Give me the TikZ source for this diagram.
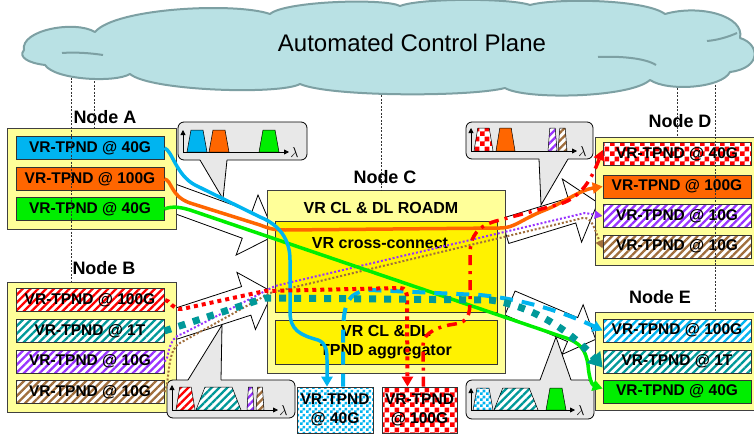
\documentclass[tikz,border=0pt]{standalone}
\usepackage{fontspec}
\setmainfont{Liberation Sans}
\usetikzlibrary{arrows.meta, patterns, patterns.meta}

\definecolor{skyc}{RGB}{0,180,240}
\definecolor{orng}{RGB}{255,102,0}
\definecolor{grn}{RGB}{0,238,0}
\definecolor{tealc}{RGB}{0,153,153}
\definecolor{violc}{RGB}{153,51,255}
\definecolor{brwn}{RGB}{160,110,60}
\definecolor{paley}{RGB}{255,255,153}
\definecolor{cloudf}{RGB}{185,225,228}
\definecolor{cloudd}{RGB}{125,160,163}
\definecolor{insetg}{RGB}{232,232,232}

\pgfdeclarepatternformonly{bigcheck}{\pgfqpoint{0pt}{0pt}}{\pgfqpoint{10pt}{10pt}}{\pgfqpoint{10pt}{10pt}}%
{\pgfpathrectangle{\pgfqpoint{0pt}{0pt}}{\pgfqpoint{5pt}{5pt}}%
 \pgfpathrectangle{\pgfqpoint{5pt}{5pt}}{\pgfqpoint{5pt}{5pt}}%
 \pgfusepath{fill}}
\pgfdeclarepatternformonly{smallcheck}{\pgfqpoint{0pt}{0pt}}{\pgfqpoint{6pt}{6pt}}{\pgfqpoint{6pt}{6pt}}%
{\pgfpathrectangle{\pgfqpoint{0pt}{0pt}}{\pgfqpoint{3pt}{3pt}}%
 \pgfpathrectangle{\pgfqpoint{3pt}{3pt}}{\pgfqpoint{3pt}{3pt}}%
 \pgfusepath{fill}}

\tikzset{
  nodebox/.style={draw=black!75, fill=paley, line width=0.7pt, inner sep=0pt},
  nodelabel/.style={font=\fontsize{18}{20}\bfseries\selectfont, inner sep=0pt},
  tpnd/.style={draw=black!80, line width=0.7pt, minimum width=148, minimum height=23,
    inner sep=0pt, font=\fontsize{15.5}{17}\bfseries\selectfont},
  hatch/.style={preaction={fill=white}, pattern={Lines[angle=45,distance=5.5pt,line width=2.3pt]}, pattern color=#1},
  bigchk/.style={preaction={fill=white}, pattern=bigcheck, pattern color=#1},
  smallchk/.style={preaction={fill=white}, pattern=smallcheck, pattern color=#1},
  blockarr/.style={draw=black, fill=white, line width=0.8pt, line join=miter},
  calloutline/.style={draw=black, line width=0.8pt},
  bandline/.style={draw=black, line width=0.5pt},
  axarr/.style={line width=0.8pt, -{Triangle[length=5pt,width=5pt]}},
  ctrl/.style={draw=black!80, line width=0.5pt, dash pattern=on 2pt off 1.5pt},
  cloudline/.style={draw=cloudd, line width=2pt, line join=round},
  sig/.style={line width=3.5pt, -{Triangle[length=10pt,width=11pt]}},
}

% hollow block arrow: x, y, angle, shaft half width, body length, head length, head half width
\newcommand{\blockarrow}[7]{%
  \begin{scope}[shift={(#1,#2)}, rotate=#3]
    \draw[blockarr] (0,-#4) -- (#5,-#4) -- (#5,-#7) -- ({#5+#6},0) -- (#5,#7) -- (#5,#4) -- (0,#4) -- cycle;
  \end{scope}}
% spectrum callout: x1, x2, y at tail, other y, tail left, tail right, tip x, tip y
\newcommand{\specbox}[8]{%
  \fill[insetg, rounded corners=6] (#1,#3) rectangle (#2,#4);
  \fill[insetg] (#5,#3) -- (#7,#8) -- (#6,#3) -- cycle;
  \draw[calloutline, rounded corners=6] (#6,#3) -- (#2,#3) -- (#2,#4) -- (#1,#4) -- (#1,#3) -- (#5,#3);
  \draw[calloutline] (#5,#3) -- (#7,#8) -- (#6,#3);}
% spectral band: left, right, top, bottom, style
\newcommand{\band}[5]{%
  \draw[bandline,#5] (#1,#4) -- ({#1+0.2*(#2-#1)},#3) -- ({#2-0.2*(#2-#1)},#3) -- (#2,#4) -- cycle;}
% axes: x, top, bottom, right end
\newcommand{\specaxes}[4]{%
  \draw[axarr] (#1,#3) -- (#1,#2);
  \draw[axarr] (#1,#3) -- (#4,#3) node[right, inner sep=1pt, font=\fontsize{14}{14}\selectfont] {$\lambda$};}

\begin{document}
\begin{tikzpicture}[x=1pt, y=-1pt]
\useasboundingbox (0,0) rectangle (754,436);

% block arrows between nodes
\blockarrow{170}{197}{-20}{14}{82}{30}{32}
\blockarrow{172}{325}{18}{15}{78}{28}{30}
\blockarrow{505}{231}{17}{13}{70}{27}{33}
\blockarrow{510}{303}{-23}{13}{68}{25}{27}

% Node A
\node[nodebox, minimum width=169, minimum height=101] (nodeA) at (91.5,178.5) {};
\node[nodelabel] (labA) at (105,117) {Node A};
\node[tpnd, fill=skyc] (a1) at (90,148) {VR-TPND @ 40G};
\node[tpnd, fill=orng] (a2) at (90,179) {VR-TPND @ 100G};
\node[tpnd, fill=grn] (a3) at (90,209) {VR-TPND @ 40G};

% Node B
\node[nodebox, minimum width=169, minimum height=130] (nodeB) at (91.5,347) {};
\node[nodelabel] (labB) at (104,268) {Node B};
\node[tpnd, hatch=red] (b1) at (90,300) {VR-TPND @ 100G};
\node[tpnd, hatch=tealc] (b2) at (90,331) {VR-TPND @ 1T};
\node[tpnd, hatch=violc] (b3) at (90,361.5) {VR-TPND @ 10G};
\node[tpnd, hatch=brwn] (b4) at (90,392) {VR-TPND @ 10G};

% Node C
\node[nodebox, minimum width=238, minimum height=183] (nodeC) at (386,281.5) {};
\node[nodelabel] (labC) at (385,177) {Node C};
\node[font=\fontsize{16}{18}\bfseries\selectfont] (roadm) at (381,208) {VR CL \& DL ROADM};
\node[draw=black!80, fill=yellow, line width=0.7pt, minimum width=222, minimum height=91, inner sep=0pt] (xconn) at (386,266.5) {};
\node[font=\fontsize{16}{18}\bfseries\selectfont] (xlab) at (380,243) {VR cross-connect};
\node[draw=black!80, fill=yellow, line width=0.7pt, minimum width=222, minimum height=44, inner sep=0pt,
  align=center, font=\fontsize{16}{19}\bfseries\selectfont] (aggr) at (386,342) {VR CL \& DL\\TPND aggregator};

% Node D
\node[nodebox, minimum width=162, minimum height=128] (nodeD) at (676,201) {};
\node[nodelabel] (labD) at (680,121) {Node D};
\node[tpnd, bigchk=red] (d1) at (677,154) {VR-TPND @ 40G};
\node[tpnd, fill=orng] (d2) at (677,186.5) {VR-TPND @ 100G};
\node[tpnd, hatch=violc] (d3) at (677,216) {VR-TPND @ 10G};
\node[tpnd, hatch=brwn] (d4) at (677,246.5) {VR-TPND @ 10G};

% Node E
\node[nodebox, minimum width=162, minimum height=98] (nodeE) at (676,361) {};
\node[nodelabel] (labE) at (660,297) {Node E};
\node[tpnd, hatch=skyc] (e1) at (677,330.5) {VR-TPND @ 100G};
\node[tpnd, hatch=tealc] (e2) at (677,361.5) {VR-TPND @ 1T};
\node[tpnd, fill=grn] (e3) at (677,391.5) {VR-TPND @ 40G};

% local drop TPNDs
\node[tpnd, smallchk=skyc, minimum width=76, minimum height=46, align=center, font=\fontsize{15.5}{19}\bfseries\selectfont] (x40) at (335,410) {VR-TPND\\@ 40G};
\node[tpnd, bigchk=red, minimum width=75, minimum height=46, align=center, font=\fontsize{15.5}{19}\bfseries\selectfont] (x100) at (419.5,410) {VR-TPND\\@ 100G};

% control plane links
\coordinate (cB) at (71,60);
\coordinate (cA) at (94,60);
\coordinate (cC) at (381,60);
\coordinate (cD) at (677,60);
\coordinate (cE) at (715,60);
\draw[ctrl] (cB) -- (cB |- nodeB.north);
\draw[ctrl] (cA) -- (cA |- nodeA.north);
\draw[ctrl] (cC) -- (cC |- nodeC.north);
\draw[ctrl] (cD) -- (cD |- nodeD.north);
\draw[ctrl] (cE) -- (cE |- nodeE.north);

% cloud
\filldraw[cloudline, fill=cloudf] (24,50)
  .. controls (20,30) and (75,20) .. (95,32)
  .. controls (115,8) and (235,2) .. (270,14)
  .. controls (285,1) and (385,-2) .. (400,6)
  .. controls (420,-2) and (510,-2) .. (530,5)
  .. controls (555,-2) and (645,-1) .. (665,14)
  .. controls (700,4) and (745,16) .. (740,38)
  .. controls (760,44) and (762,68) .. (730,72)
  .. controls (722,88) and (668,92) .. (650,80)
  .. controls (630,98) and (525,100) .. (505,88)
  .. controls (470,97) and (330,97) .. (300,84)
  .. controls (280,95) and (150,91) .. (130,74)
  .. controls (115,83) and (55,80) .. (45,65)
  .. controls (28,63) and (18,57) .. (24,50) -- cycle;
\draw[cloudline] (62,53) .. controls (75,52) and (90,53) .. (103,55);
\draw[cloudline] (598,57) .. controls (620,56) and (645,58) .. (656,65);
\draw[cloudline] (707,41) .. controls (718,40) and (728,37) .. (737,33);
\node[font=\fontsize{24}{26}\selectfont] (acp) at (412,43) {Automated Control Plane};

% spectra
\specbox{178}{307}{160}{122}{200}{227}{223}{199}
\band{187}{207}{130}{152}{fill=skyc}
\band{209}{229}{130}{152}{fill=orng}
\band{259}{279}{130}{152}{fill=grn}
\specaxes{183}{130}{152}{289}

\specbox{466}{593}{159}{122}{539}{568}{541}{205}
\band{474}{493}{128}{151}{bigchk=red}
\band{496}{515}{128}{151}{fill=orng}
\band{548}{557}{128}{151}{hatch=violc}
\band{558}{567}{128}{151}{hatch=brwn}
\specaxes{471}{128}{151}{577}

\specbox{167}{295}{380}{418}{188}{221}{222}{325}
\band{176}{195}{387}{410}{hatch=red}
\band{196}{241}{387}{410}{hatch=tealc}
\band{247}{254}{387}{410}{hatch=violc}
\band{256}{264}{387}{410}{hatch=brwn}
\specaxes{172}{385}{410}{278}

\specbox{466}{594}{380}{419}{540}{571}{556}{337}
\band{473}{493}{388}{410}{smallchk=skyc}
\band{494}{538}{388}{410}{hatch=tealc}
\band{546}{566}{388}{410}{fill=grn}
\specaxes{471}{388}{410}{575}

% lightpaths
\draw[sig, draw=brwn, line width=2pt, dash pattern=on 2pt off 2pt, -{Triangle[length=8pt,width=8pt]}]
  (b4.east) .. controls (170,385) and (166,350) .. (180,343) -- (270,293) -- (583,218)
  .. controls (592,217) and (594,228) .. ([yshift=-2]d4.west);
\draw[sig, draw=violc, line width=2pt, dash pattern=on 2pt off 2pt, -{Triangle[length=8pt,width=8pt]}]
  (b3.east) .. controls (170,360) and (166,338) .. (182,334) -- (275,286) -- (585,213) -- (d3.west);
\draw[sig, draw=grn]
  (a3.east) .. controls (172,206) and (180,207) .. (190,210) -- (563,337)
  .. controls (580,342) and (586,350) .. (588,365) .. controls (589,378) and (592,385) .. ([yshift=3]e3.west);
\draw[sig, draw=orng]
  (a2.east) .. controls (172,180) and (170,196) .. (190,203) -- (260,225)
  .. controls (268,228) and (272,230) .. (285,230) -- (500,228)
  .. controls (515,228) and (520,220) .. (545,210) .. controls (565,202) and (580,190) .. (d2.west);
\draw[sig, draw=skyc]
  (a1.east) .. controls (172,150) and (176,175) .. (195,185) -- (260,217)
  .. controls (280,225) and (290,240) .. (290,260) -- (290,312)
  .. controls (290,330) and (300,335) .. (318,340) .. controls (326,343) and (327,350) .. (327,360)
  -- ([xshift=-8]x40.north);
\draw[sig, draw=skyc, line width=4pt, dash pattern=on 13pt off 9pt]
  ([xshift=8]x40.north) -- (343,335) .. controls (343,300) and (350,292) .. (370,290)
  -- (480,295) .. controls (530,300) and (570,315) .. (e1.west);
\draw[sig, draw=red, line width=4pt, dash pattern=on 4pt off 4pt]
  (b1.east) .. controls (170,300) and (172,310) .. (182,309) -- (265,291) -- (400,288)
  .. controls (406,288) and (407,292) .. (407,300) -- ([xshift=-12]x100.north);
\draw[sig, draw=red, dash pattern=on 10pt off 6pt on 3pt off 6pt]
  ([xshift=4]x100.north) -- (423,345) .. controls (423,332) and (440,326) .. (455,324)
  .. controls (468,322) and (470,315) .. (470,300) -- (470,255)
  .. controls (470,235) and (478,225) .. (500,220) -- (560,204)
  .. controls (582,197) and (592,178) .. ([yshift=4]d1.west);
\draw[sig, draw=tealc, line width=7pt, dash pattern=on 7pt off 8pt, -{Triangle[length=14pt,width=17pt]}]
  (b2.east) -- (265,298) -- (490,300) .. controls (530,305) and (570,330) .. ([yshift=-6]e2.west);
\end{tikzpicture}
\end{document}
